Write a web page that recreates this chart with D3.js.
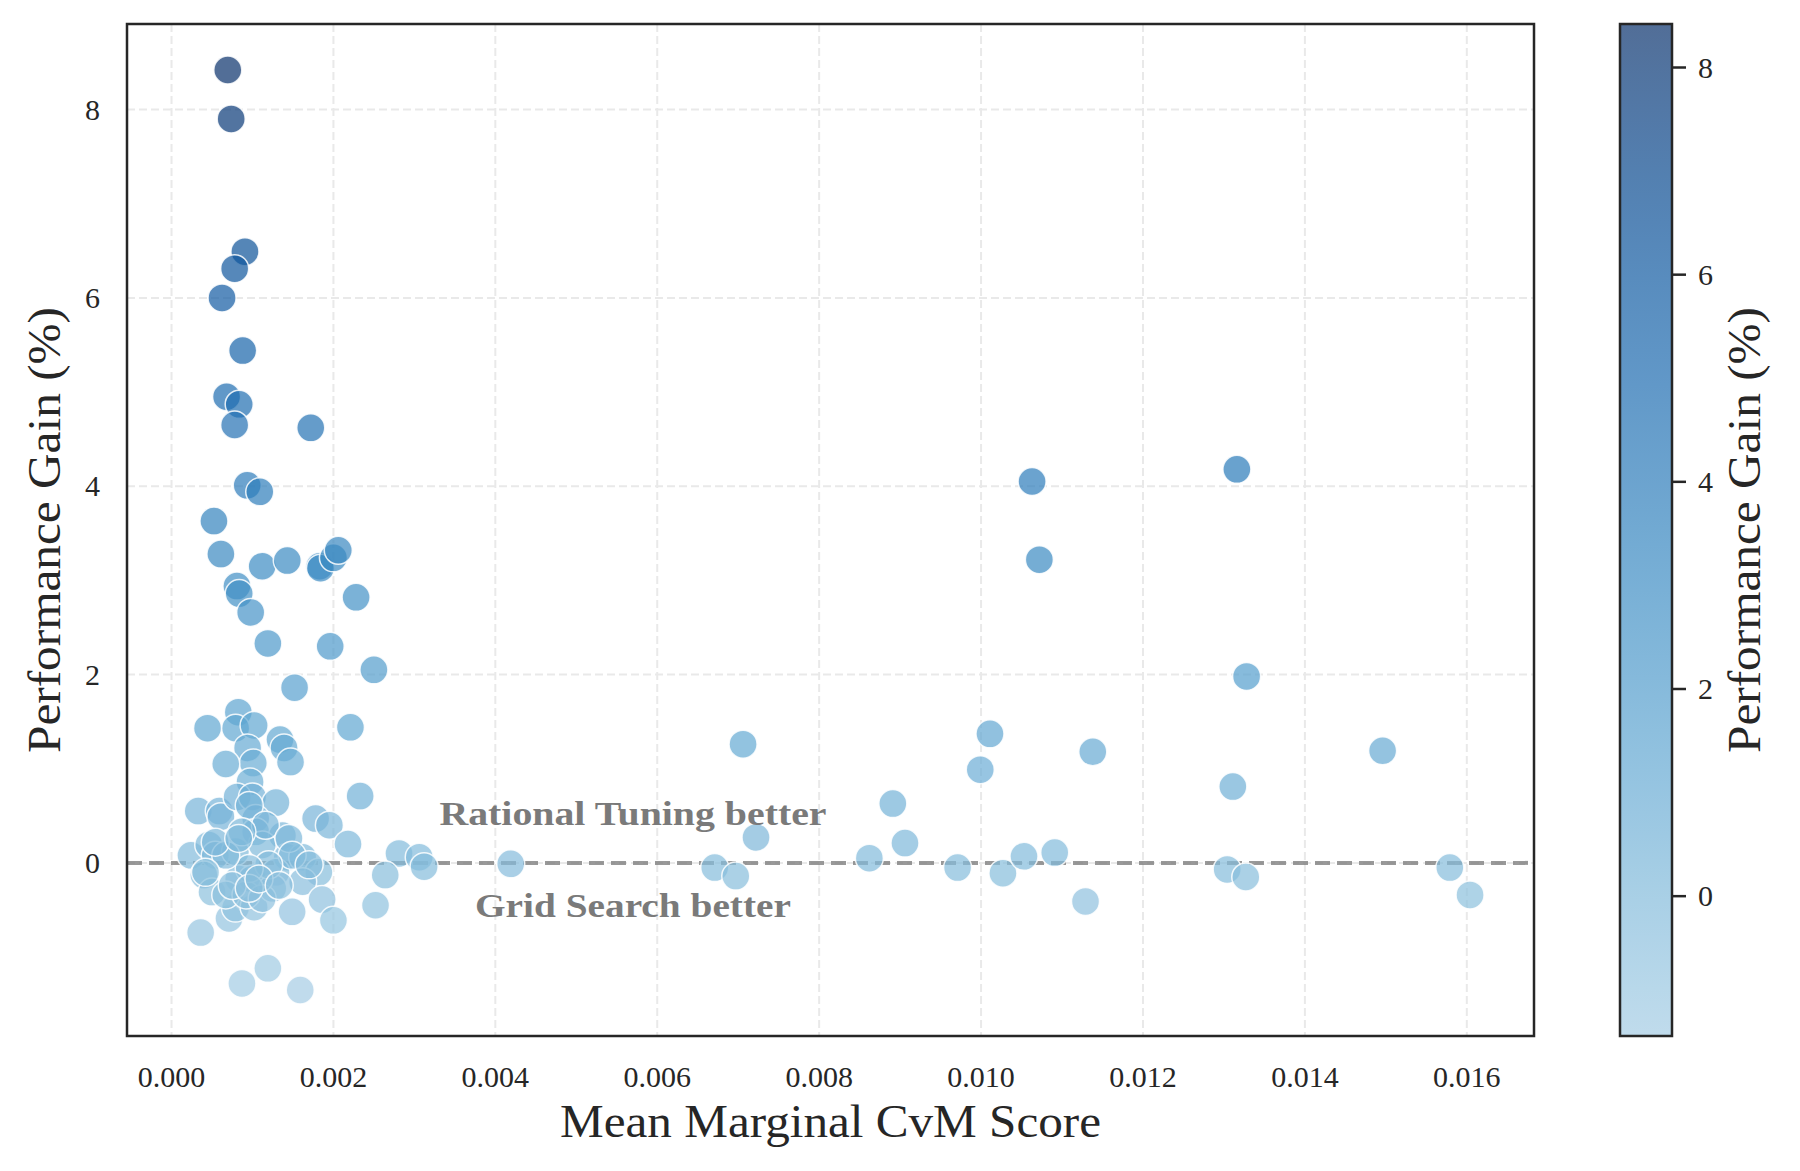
<!DOCTYPE html>
<html lang="en">
<head>
    <meta charset="UTF-8">
    <title>Performance Gain vs Mean Marginal CvM Score</title>
    <style>
        body {
            margin: 0;
            background: #fff;
        }
        svg text {
            font-family: "Liberation Serif", "DejaVu Serif", serif;
            fill: #262626;
        }
        .tick-label {
            font-size: 30px;
        }
        .axis-label {
            font-size: 46px;
        }
        .note {
            font-size: 34px;
            font-weight: bold;
            fill: #7a7a7a;
        }
    </style>
</head>
<body>
<svg id="chart" width="1800" height="1171"></svg>

<script src="https://d3js.org/d3.v7.min.js"></script>
<script>
    // x: mean marginal CvM score, y: performance gain (%)
    const cvmScore = [
        0.000695, 0.000737, 0.000907, 0.00078, 0.000624, 0.000879, 0.00068, 0.000836,
        0.00078, 0.00172, 0.000935, 0.00109, 0.000524, 0.00061, 0.000808, 0.000836,
        0.00112, 0.00143, 0.00183, 0.00184, 0.0020, 0.00206, 0.00228, 0.000978,
        0.00119, 0.00196, 0.00250, 0.00152,
        0.000825, 0.000445, 0.000792, 0.00102, 0.00134, 0.00094, 0.00139, 0.00147,
        0.00101, 0.00067, 0.00221, 0.00097, 0.00233, 0.00033, 0.00059, 0.00061,
        0.00081, 0.0010, 0.00129, 0.00104, 0.00104, 0.00137, 0.00178, 0.00195,
        0.00218, 0.00024, 0.00046, 0.00054, 0.00079, 0.00112, 0.00143, 0.00162,
        0.00182, 0.00281, 0.00306, 0.00312, 0.00264, 0.00252, 0.0004, 0.0005,
        0.00083, 0.0010, 0.00129, 0.00162, 0.00186, 0.0020, 0.00149, 0.00071,
        0.00079, 0.00102, 0.00067, 0.00092, 0.00125, 0.00036, 0.00087, 0.00119,
        0.00159,
        0.00096, 0.00116, 0.00087, 0.00145, 0.00149, 0.0012, 0.00096, 0.00067,
        0.00042, 0.00075, 0.00112, 0.00096, 0.00054, 0.0017, 0.00108, 0.00133,
        0.00083,
        0.00419, 0.00671, 0.00697, 0.00706, 0.00722, 0.00862, 0.00891, 0.00906,
        0.00971, 0.00999, 0.01011, 0.01027, 0.01053, 0.01063, 0.01072, 0.01091,
        0.01129, 0.01138, 0.01304, 0.01311, 0.01316, 0.01327, 0.01328, 0.01496,
        0.01579, 0.01604
    ];
    const perfGain = [
        8.42, 7.90, 6.49, 6.31, 6.00, 5.44, 4.95, 4.87,
        4.65, 4.62, 4.01, 3.94, 3.63, 3.28, 2.94, 2.86,
        3.15, 3.21, 3.15, 3.13, 3.24, 3.32, 2.82, 2.66,
        2.33, 2.30, 2.05, 1.86,
        1.60, 1.43, 1.43, 1.46, 1.31, 1.22, 1.22, 1.07,
        1.06, 1.05, 1.44, 0.86, 0.71, 0.55, 0.55, 0.49,
        0.70, 0.70, 0.64, 0.47, 0.33, 0.29, 0.47, 0.40,
        0.20, 0.08, 0.19, 0.08, 0.12, 0.19, 0.06, 0.06,
        -0.10, 0.10, 0.06, -0.04, -0.13, -0.45, -0.13, -0.31,
        -0.17, -0.17, -0.10, -0.20, -0.39, -0.61, -0.52, -0.59,
        -0.48, -0.47, -0.34, -0.34, -0.27, -0.74, -1.28, -1.12,
        -1.35,
        0.61, 0.40, 0.33, 0.26, 0.08, -0.02, -0.06, 0.08,
        -0.10, -0.24, -0.38, -0.27, 0.22, -0.02, -0.17, -0.24,
        0.26,
        -0.01, -0.05, -0.14, 1.26, 0.27, 0.05, 0.63, 0.21,
        -0.05, 0.99, 1.37, -0.11, 0.07, 4.05, 3.22, 0.11,
        -0.41, 1.18, -0.07, 0.81, 4.18, -0.15, 1.98, 1.19,
        -0.05, -0.34
    ];
    const xTicks = [0, 0.002, 0.004, 0.006, 0.008, 0.010, 0.012, 0.014, 0.016];
    const yTicks = [0, 2, 4, 6, 8];
    const notes = [
        { text: "Rational Tuning better", x: 0.0057, y: 0.40, len: 387 },
        { text: "Grid Search better", x: 0.0057, y: -0.57, len: 316 }
    ];

    const points = cvmScore.map((x, i) => ({ x: x, y: perfGain[i] }));

    const svg = d3.select("#chart");
    const plot = { left: 127, right: 1534, top: 24, bottom: 1036 };

    // matplotlib-style 5% margins around the data
    const pad = ([a, b]) => [a - (b - a) * 0.05, b + (b - a) * 0.05];
    const xExt = d3.extent(points, d => d.x);
    const yExt = d3.extent(points, d => d.y);

    const x = d3.scaleLinear().domain(pad(xExt)).range([plot.left, plot.right]);
    const y = d3.scaleLinear().domain(pad(yExt)).range([plot.bottom, plot.top]);

    // light blue -> dark blue, as in the colorbar
    const color = d3.scaleSequential(t => d3.interpolateBlues(0.35 + 0.65 * t)).domain(yExt);

    // grid
    const grid = svg.append("g")
        .attr("stroke", "#e9e9e9")
        .attr("stroke-width", 2)
        .attr("stroke-dasharray", "8,4");
    grid.selectAll(".gx").data(xTicks).join("line")
        .attr("x1", d => x(d)).attr("x2", d => x(d))
        .attr("y1", plot.top).attr("y2", plot.bottom);
    grid.selectAll(".gy").data(yTicks).join("line")
        .attr("x1", plot.left).attr("x2", plot.right)
        .attr("y1", d => y(d)).attr("y2", d => y(d));

    // zero line
    svg.append("line")
        .attr("x1", plot.left).attr("x2", plot.right)
        .attr("y1", y(0)).attr("y2", y(0))
        .attr("stroke", "#808080")
        .attr("stroke-opacity", 0.8)
        .attr("stroke-width", 4)
        .attr("stroke-dasharray", "15,7");

    // points
    svg.append("g").selectAll("circle")
        .data(points)
        .join("circle")
        .attr("cx", d => x(d.x))
        .attr("cy", d => y(d.y))
        .attr("r", 14)
        .attr("fill", d => color(d.y))
        .attr("fill-opacity", 0.7)
        .attr("stroke", "#fff")
        .attr("stroke-opacity", 0.85)
        .attr("stroke-width", 1.5);

    // annotations
    svg.selectAll(".note").data(notes).join("text")
        .attr("class", "note")
        .attr("x", d => x(d.x))
        .attr("y", d => y(d.y))
        .attr("text-anchor", "middle")
        .attr("textLength", d => d.len)
        .attr("lengthAdjust", "spacingAndGlyphs")
        .text(d => d.text);

    // frame
    svg.append("rect")
        .attr("x", plot.left).attr("y", plot.top)
        .attr("width", plot.right - plot.left)
        .attr("height", plot.bottom - plot.top)
        .attr("fill", "none")
        .attr("stroke", "#262626")
        .attr("stroke-width", 2.5);

    // tick labels
    svg.selectAll(".xt").data(xTicks).join("text")
        .attr("class", "tick-label")
        .attr("x", d => x(d))
        .attr("y", 1087)
        .attr("text-anchor", "middle")
        .text(d3.format(".3f"));
    svg.selectAll(".yt").data(yTicks).join("text")
        .attr("class", "tick-label")
        .attr("x", 100)
        .attr("y", d => y(d) + 10)
        .attr("text-anchor", "end")
        .text(d => d);

    // axis labels
    svg.append("text")
        .attr("class", "axis-label")
        .attr("x", (plot.left + plot.right) / 2)
        .attr("y", 1137)
        .attr("text-anchor", "middle")
        .attr("textLength", 541)
        .attr("lengthAdjust", "spacingAndGlyphs")
        .text("Mean Marginal CvM Score");
    svg.append("text")
        .attr("class", "axis-label")
        .attr("transform", `translate(60,${(plot.top + plot.bottom) / 2}) rotate(-90)`)
        .attr("text-anchor", "middle")
        .attr("textLength", 446)
        .attr("lengthAdjust", "spacingAndGlyphs")
        .text("Performance Gain (%)");

    // colorbar
    const cb = { left: 1620, width: 52 };
    const cy = d3.scaleLinear().domain(yExt).range([plot.bottom, plot.top]);

    const grad = svg.append("defs").append("linearGradient")
        .attr("id", "cbGrad")
        .attr("x1", 0).attr("y1", 1).attr("x2", 0).attr("y2", 0);
    grad.selectAll("stop").data(d3.range(0, 1.0001, 0.05)).join("stop")
        .attr("offset", d => d)
        .attr("stop-color", d => color(yExt[0] + d * (yExt[1] - yExt[0])));

    svg.append("rect")
        .attr("x", cb.left).attr("y", plot.top)
        .attr("width", cb.width).attr("height", plot.bottom - plot.top)
        .attr("fill", "url(#cbGrad)")
        .attr("fill-opacity", 0.7)
        .attr("stroke", "#262626")
        .attr("stroke-width", 2.5);

    const cbTicks = svg.append("g").selectAll("g").data(yTicks).join("g")
        .attr("transform", d => `translate(${cb.left + cb.width},${cy(d)})`);
    cbTicks.append("line")
        .attr("x1", 0).attr("x2", 14)
        .attr("stroke", "#262626").attr("stroke-width", 2.5);
    cbTicks.append("text")
        .attr("class", "tick-label")
        .attr("x", 26)
        .attr("y", 10)
        .text(d => d);

    svg.append("text")
        .attr("class", "axis-label")
        .attr("transform", `translate(1760,${(plot.top + plot.bottom) / 2}) rotate(-90)`)
        .attr("text-anchor", "middle")
        .attr("textLength", 446)
        .attr("lengthAdjust", "spacingAndGlyphs")
        .text("Performance Gain (%)");
</script>
</body>
</html>
